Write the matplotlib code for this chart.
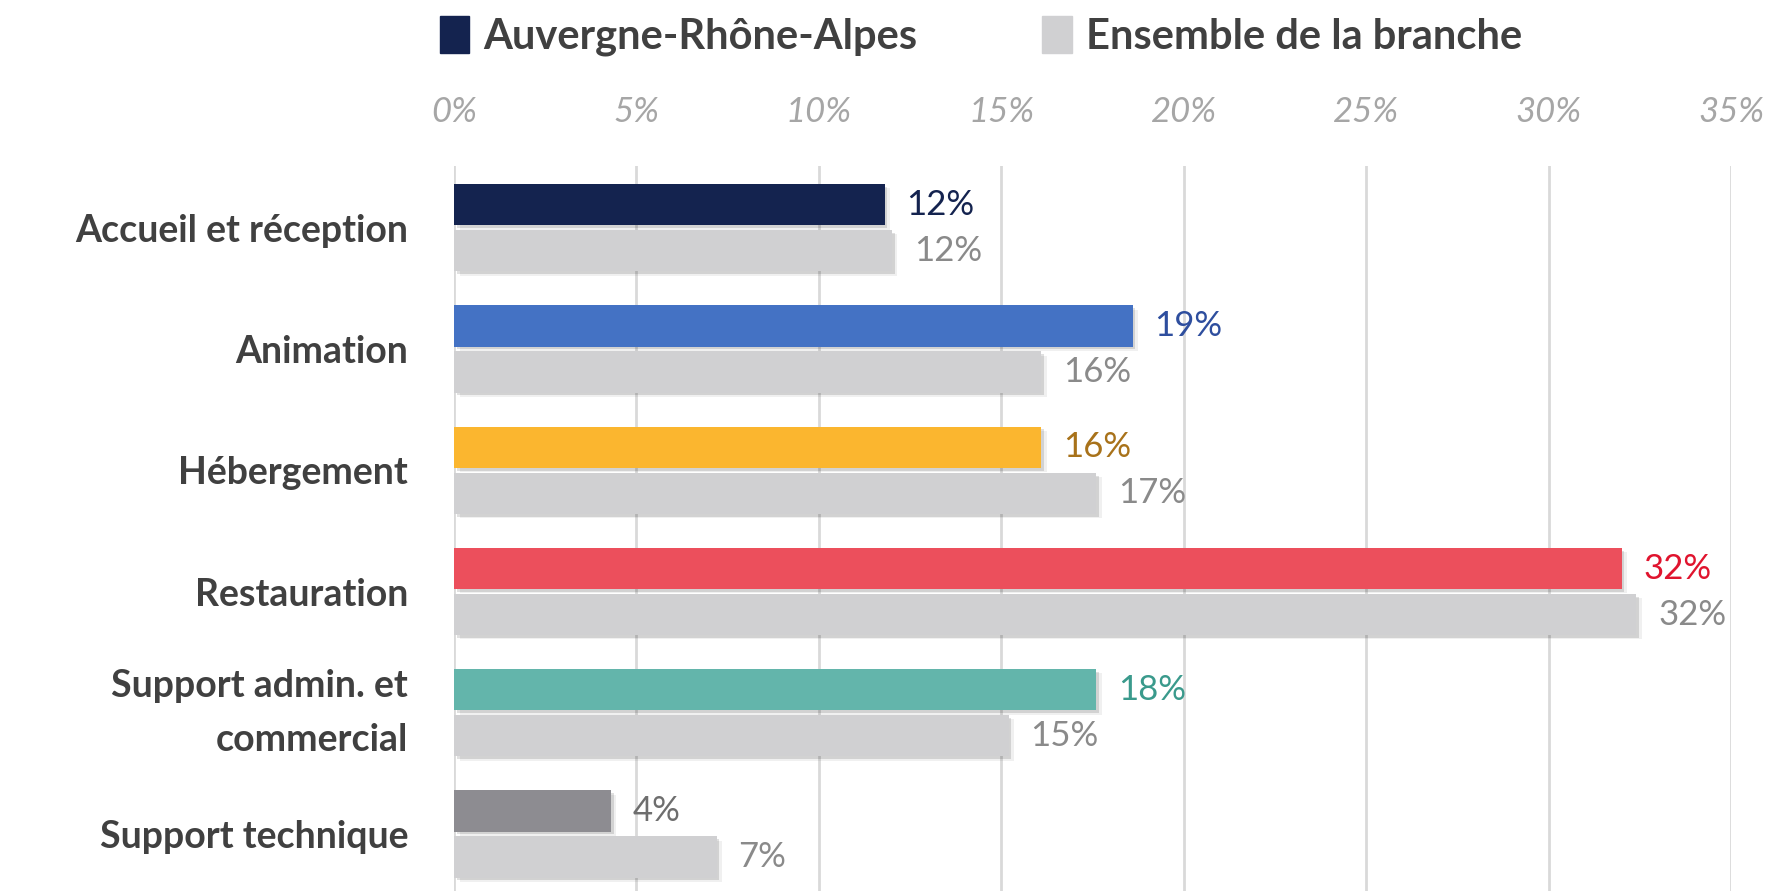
import matplotlib
matplotlib.use("Agg")
import matplotlib.pyplot as plt
import matplotlib.patheffects as pe
import matplotlib.transforms as mtransforms
from matplotlib.patches import Patch
import numpy as np

plt.rcParams['font.family'] = ['Lato', 'DejaVu Sans']

categories = ["Accueil et réception", "Animation", "Hébergement", "Restauration",
              "Support admin. et\ncommercial", "Support technique"]
region_values = [11.8, 18.6, 16.1, 32.0, 17.6, 4.3]
branch_values = [12.0, 16.1, 17.6, 32.4, 15.2, 7.2]
region_labels = ["12%", "19%", "16%", "32%", "18%", "4%"]
branch_labels = ["12%", "16%", "17%", "32%", "15%", "7%"]
series_names = ["Auvergne-Rhône-Alpes", "Ensemble de la branche"]
xticks = [0, 5, 10, 15, 20, 25, 30, 35]
xtick_labels = ["0%", "5%", "10%", "15%", "20%", "25%", "30%", "35%"]

region_colors = ["#14234F", "#4472C4", "#FBB62F", "#EC4F5C", "#63B5AB", "#8D8C91"]
region_text_colors = ["#14234F", "#2E4E9E", "#A8721A", "#E0142E", "#3A9A8C", "#6E6E6E"]
branch_color = "#D0D0D2"
branch_text_color = "#8A8A8A"
label_color = "#404040"

W, H = 1776, 891
fig = plt.figure(figsize=(W / 100, H / 100), dpi=100)
left, right, top = 454 / W, 1731 / W, 166 / H
ax = fig.add_axes([left, 0, right - left, 1 - top])

y = np.arange(len(categories))
h = 0.34
off = 0.19

shadow = [pe.SimplePatchShadow(offset=(2, -2), shadow_rgbFace="#000000", alpha=0.12),
          pe.SimplePatchShadow(offset=(4, -3), shadow_rgbFace="#000000", alpha=0.06),
          pe.Normal()]

b1 = ax.barh(y - off, region_values, height=h, color=region_colors, zorder=3)
b2 = ax.barh(y + off, branch_values, height=h, color=branch_color, zorder=3)
for b in list(b1) + list(b2):
    b.set_path_effects(shadow)

for i in range(len(categories)):
    ax.text(region_values[i] + 0.6, y[i] - off, region_labels[i], va="center", ha="left",
            fontsize=25, color=region_text_colors[i], zorder=4)
    ax.text(branch_values[i] + 0.6, y[i] + off, branch_labels[i], va="center", ha="left",
            fontsize=25, color=branch_text_color, zorder=4)

ax.set_xlim(0, 35)
ax.set_ylim(5.47, -0.51)
ax.set_xticks(xticks)
ax.set_xticklabels(xtick_labels, fontsize=25, style="italic", color="#A6A6A6")
ax.xaxis.tick_top()
ax.tick_params(axis="x", length=0, pad=27)
ax.set_yticks(y)
ax.set_yticklabels(categories, fontsize=27, fontweight="bold", color=label_color,
                   linespacing=1.7)
ax.tick_params(axis="y", length=0, pad=33)
for lab in ax.get_yticklabels():
    if "\n" in lab.get_text():
        lab.set_transform(lab.get_transform() +
                          mtransforms.ScaledTranslation(0, 9 / 72, fig.dpi_scale_trans))
ax.grid(axis="x", color="#D9D9D9", linewidth=2, zorder=0)
ax.set_axisbelow(True)
for s in ax.spines.values():
    s.set_visible(False)

handles = [Patch(color=region_colors[0]), Patch(color=branch_color)]
fig.legend(handles, series_names, loc="center", bbox_to_anchor=(981 / W, 1 - 36 / H),
           ncol=2, frameon=False, handlelength=0.7, handleheight=1.0,
           handletextpad=0.35, columnspacing=3.0, labelcolor=label_color,
           prop={"weight": "bold", "size": 30})

fig.savefig("out.png", dpi=100)
